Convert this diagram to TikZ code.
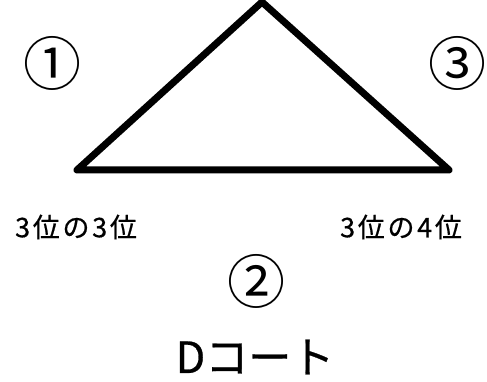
\documentclass[tikz,border=0pt]{standalone}
\usepackage{fontspec}
\setmainfont{Noto Sans CJK JP}
\newfontfamily\heavyfont{Noto Sans CJK JP}[FakeBold=0.6]
\newcommand{\seatmark}[1]{\makebox[0.8em]{#1}}
\usepackage{tikz}

\begin{document}
\begin{tikzpicture}[x=1pt, y=-1pt,
    court/.style={line width=7pt, line join=round, line cap=round},
    seat/.style={font=\fontsize{58}{58}\selectfont, inner sep=0pt},
    rank/.style={font=\heavyfont\fontsize{27}{27}\selectfont\addfontfeatures{LetterSpace=10}, inner sep=0pt},
    title/.style={font=\heavyfont\fontsize{43}{43}\selectfont, inner sep=0pt}]
    \useasboundingbox (0,0) rectangle (487,382);
    % triangle
    \coordinate (top) at (262,2);
    \coordinate (left) at (77,170);
    \coordinate (right) at (449,170);
    \draw[court] (top) -- (left) -- (right) -- cycle;
    % seats
    \node[seat] (s1) at (52,63) {\seatmark{①}};
    \node[seat] (s3) at (457,63) {\seatmark{③}};
    \node[seat] (s2) at (256,281) {\seatmark{②}};
    \node[rank] (r3) at (76,227) {3位の3位};
    \node[rank] (r4) at (401,227) {3位の4位};
    \node[title] (court) at (255,357) {Dコート};
\end{tikzpicture}
\end{document}
